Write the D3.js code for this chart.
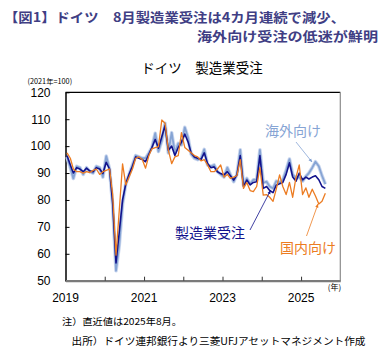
<!DOCTYPE html>
<html>
<head>
<meta charset="utf-8">
<script src="https://cdn.jsdelivr.net/npm/d3@7"></script>
<style>
  body { margin: 0; background: #fff; }
  svg { display: block; }
  .num { font-family: "Liberation Sans", Arial, sans-serif; }
  .jp { font-family: "Noto Sans CJK JP", sans-serif; }
</style>
</head>
<body>
<div id="chart"></div>
<script>
/* ドイツ 製造業受注 (2021年=100) */

const width = 384,
    height = 354,
    margin = ({ top: 92.3, right: 43.7, bottom: 73.3, left: 65.5 });

// monthly values, 2019-01 .. 2025-08
const total = [
  96.5, 93.0, 90.0, 92.0, 91.5, 90.5, 91.8, 90.8, 90.5, 92.0, 91.5, 89.8,
  94.0, 91.5, 79.0, 56.6, 68.0, 80.0, 86.0, 89.5, 92.5, 96.0, 95.5, 95.0,
  94.2, 97.0, 99.5, 102.5, 99.2, 103.5, 107.6, 98.5, 100.0, 96.5, 99.5, 101.5,
  104.5, 101.5, 97.5, 96.0, 95.5, 95.0, 97.5, 93.5, 92.0, 92.3, 90.5, 89.8,
  89.3, 90.5, 89.0, 87.4, 89.3, 96.5, 85.0, 87.4, 85.6, 86.5, 86.8, 96.5,
  84.3, 85.0, 83.5, 82.7, 85.5, 86.0, 86.5, 89.5, 93.8, 88.5, 87.0, 90.0,
  87.5, 88.5, 87.8, 88.5, 89.0, 87.5, 85.0, 84.3
];
const domestic = [
  97.5, 95.5, 91.5, 90.5, 90.5, 90.0, 90.5, 90.2, 91.0, 91.5, 89.5, 90.5,
  91.0, 91.5, 82.0, 59.5, 76.0, 93.4, 85.6, 88.5, 91.5, 95.5, 96.0, 95.0,
  91.8, 96.5, 99.0, 99.4, 99.8, 109.7, 108.5, 98.5, 93.5, 96.0, 96.5, 105.0,
  99.5, 98.5, 97.5, 96.5, 96.0, 94.5, 95.0, 93.0, 90.5, 90.5, 91.5, 93.0,
  88.5, 89.5, 88.0, 88.5, 89.0, 95.0, 84.3, 86.5, 83.5, 83.1, 85.0, 92.0,
  81.8, 82.0, 81.0, 79.5, 84.0, 89.3, 85.0, 82.0, 86.5, 81.0, 88.5, 93.0,
  82.0, 84.5, 81.0, 84.0, 81.5, 78.5, 79.5, 82.5
];
const foreign = [
  96.0, 92.0, 88.0, 92.5, 92.0, 89.5, 92.0, 90.5, 90.0, 92.5, 92.0, 88.5,
  96.3, 91.5, 78.0, 53.7, 63.0, 78.5, 86.0, 89.5, 93.0, 96.5, 96.0, 95.5,
  95.5, 97.5, 99.5, 104.8, 98.0, 102.0, 108.5, 97.5, 105.0, 97.5, 101.0, 100.5,
  107.0, 103.0, 97.0, 95.5, 95.0, 95.5, 98.8, 93.0, 92.5, 93.0, 90.5, 89.5,
  88.5, 92.0, 89.5, 86.8, 89.5, 98.6, 85.5, 88.0, 86.0, 87.5, 87.5, 98.6,
  86.4, 86.8, 85.0, 84.3, 87.0, 86.5, 87.5, 91.0, 95.2, 89.5, 88.0, 88.5,
  87.0, 88.8, 90.0, 92.0, 94.2, 92.5, 89.0, 85.9
];

const yTicks = [50, 60, 70, 80, 90, 100, 110, 120];
const yearTicks = [2020, 2021, 2022, 2023, 2024, 2025];
const yearLabels = [2019, 2021, 2023, 2025];

// points sit mid-month
const months = d3.timeMonth.range(new Date(2019, 0, 1), new Date(2025, 8, 1))
    .map(d => d3.timeDay.offset(d, 14));

const svg = d3.select("#chart")
    .append("svg")
    .attr("width", width)
    .attr("height", height)
    .attr("viewBox", [0, 0, width, height]);

const defs = svg.append("defs");
[["navy", "#12128c"], ["lb", "#7f9fd2"], ["or", "#ec7c22"]].forEach(([id, c]) => {
  defs.append("marker")
      .attr("id", "arr-" + id)
      .attr("viewBox", "0 0 10 10")
      .attr("refX", 9).attr("refY", 5)
      .attr("markerWidth", 5).attr("markerHeight", 5)
      .attr("orient", "auto")
    .append("path")
      .attr("d", "M0,1L10,5L0,9Z")
      .attr("fill", c);
});

let x = d3.scaleTime()
    .domain([new Date(2019, 0, 1), new Date(2026, 0, 1)])
    .range([margin.left, width - margin.right]);

let y = d3.scaleLinear()
    .domain([50, 120])
    .range([height - margin.bottom, margin.top]);

// header, two lines
const head = svg.append("g")
    .attr("class", "jp")
    .attr("fill", "#403e84")
    .attr("font-weight", "bold")
    .attr("font-size", 13);
head.append("text").attr("x", 4).attr("y", 21.5)
    .attr("textLength", 341).attr("lengthAdjust", "spacingAndGlyphs")
    .text("【図1】ドイツ　8月製造業受注は4カ月連続で減少、");
head.append("text").attr("x", 197).attr("y", 40.5)
    .attr("textLength", 181).attr("lengthAdjust", "spacingAndGlyphs")
    .text("海外向け受注の低迷が鮮明");

// chart title
svg.append("text")
    .attr("class", "jp")
    .attr("x", 202).attr("y", 72.5)
    .attr("text-anchor", "middle")
    .attr("font-size", 13.5)
    .text("ドイツ　製造業受注");

svg.append("text")
    .attr("class", "jp")
    .attr("x", 27.5).attr("y", 83.5)
    .attr("font-size", 7.3)
    .text("(2021年=100)");

// frame top / right
svg.append("line")
    .attr("x1", margin.left).attr("x2", width - margin.right)
    .attr("y1", margin.top).attr("y2", margin.top)
    .attr("stroke", "#000").attr("stroke-width", 1.2);
svg.append("line")
    .attr("x1", width - margin.right).attr("x2", width - margin.right)
    .attr("y1", margin.top).attr("y2", height - margin.bottom)
    .attr("stroke", "#8c8c8c").attr("stroke-width", 1.2);

// Y axis
svg.append("g")
    .attr("transform", `translate(${margin.left},0)`)
    .attr("class", "y-axis num")
    .call(d3.axisLeft(y).tickValues(yTicks).tickSize(-4).tickSizeOuter(0).tickPadding(15))
    .call(g => g.selectAll("text").attr("font-size", 12).attr("fill", "#000"))
    .call(g => g.select(".domain").attr("stroke-width", 1.5));

// X axis
svg.append("g")
    .attr("transform", `translate(0,${height - margin.bottom})`)
    .attr("class", "x-axis")
    .call(d3.axisBottom(x)
        .tickValues(yearTicks.map(yr => new Date(yr, 0, 1)))
        .tickSize(-4).tickSizeOuter(0).tickFormat(""))
    .call(g => g.select(".domain").attr("stroke", "#7a7a7a").attr("stroke-width", 2.2))
    .call(g => g.selectAll(".tick line").attr("stroke", "#333"));

svg.append("g")
    .attr("class", "num")
    .selectAll("text")
    .data(yearLabels)
    .join("text")
      .attr("x", d => x(new Date(d, 0, 1)))
      .attr("y", 302)
      .attr("text-anchor", "middle")
      .attr("font-size", 12)
      .text(d => d);

svg.append("text")
    .attr("class", "jp")
    .attr("x", 334.5).attr("y", 290)
    .attr("text-anchor", "middle")
    .attr("font-size", 8)
    .text("(年)");

// lines
let line = values => d3.line()
    .x((d, i) => x(months[i]))
    .y(d => y(d))(values);

svg.append("path")
    .attr("d", line(foreign))
    .attr("fill", "none")
    .attr("stroke", "#c9d6ee")
    .attr("stroke-width", 3.6)
    .attr("stroke-linejoin", "round");
svg.append("path")
    .attr("d", line(foreign))
    .attr("fill", "none")
    .attr("stroke", "#86a4d4")
    .attr("stroke-width", 1.8)
    .attr("stroke-linejoin", "round");
svg.append("path")
    .attr("d", line(total))
    .attr("fill", "none")
    .attr("stroke", "#12128c")
    .attr("stroke-width", 1.6)
    .attr("stroke-linejoin", "round");
svg.append("path")
    .attr("d", line(domestic))
    .attr("fill", "none")
    .attr("stroke", "#ec7c22")
    .attr("stroke-width", 1.3)
    .attr("stroke-linejoin", "round");

// series labels + arrows
const labels = [
  { t: "海外向け", x: 265, y: 136, c: "#86a4d4", id: "lb", a: [296, 142, 312, 162] },
  { t: "製造業受注", x: 175, y: 238, c: "#12128c", id: "navy", a: [250, 230, 270.5, 190.5] },
  { t: "国内向け", x: 280, y: 253, c: "#ec7c22", id: "or", a: [306.5, 236, 318, 204] }
];

svg.append("g")
    .selectAll("line")
    .data(labels)
    .join("line")
      .attr("x1", d => d.a[0]).attr("y1", d => d.a[1])
      .attr("x2", d => d.a[2]).attr("y2", d => d.a[3])
      .attr("stroke", d => d.c)
      .attr("stroke-width", 0.8)
      .attr("marker-end", d => `url(#arr-${d.id})`);

svg.append("g")
    .attr("class", "jp")
    .selectAll("text")
    .data(labels)
    .join("text")
      .attr("x", d => d.x).attr("y", d => d.y)
      .attr("font-size", 14)
      .attr("fill", d => d.c)
      .text(d => d.t);

// notes
svg.append("text")
    .attr("class", "jp")
    .attr("x", 62).attr("y", 325)
    .attr("font-size", 9.5)
    .attr("textLength", 120).attr("lengthAdjust", "spacingAndGlyphs")
    .text("注）直近値は2025年8月。");

svg.append("text")
    .attr("class", "jp")
    .attr("x", 71.5).attr("y", 345)
    .attr("font-size", 10)
    .attr("textLength", 294).attr("lengthAdjust", "spacingAndGlyphs")
    .text("出所）ドイツ連邦銀行より三菱UFJアセットマネジメント作成");
</script>
</body>
</html>
